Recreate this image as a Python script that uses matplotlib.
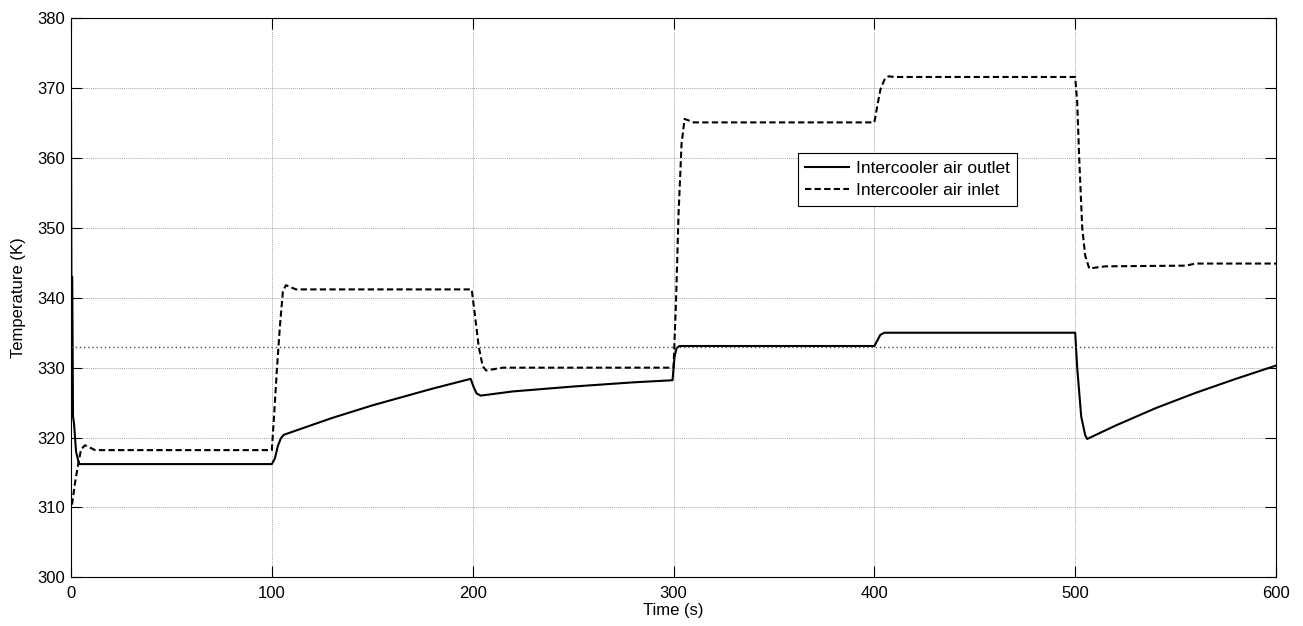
import numpy as np
import matplotlib
matplotlib.use("Agg")
import matplotlib.pyplot as plt

# ==============================
# DATA
# ==============================
# intercooler air outlet temperature (solid line)
t_outlet = [0, 0.2, 0.6, 1.0, 1.5, 2.5, 4, 100,
            101.5, 103, 104.5, 106, 110, 130, 150, 180, 199,
            200.5, 202, 204, 220, 250, 280, 299.5,
            300.5, 301.5, 303, 400,
            401.5, 403, 405, 500,
            501, 503, 505, 506, 520, 540, 560, 580, 600]
T_outlet = [368, 343, 343, 323, 322, 318, 316.2, 316.2,
            317.0, 318.8, 319.9, 320.4, 320.8, 322.8, 324.6, 327.0, 328.4,
            327.2, 326.3, 326.0, 326.6, 327.3, 327.9, 328.2,
            331.5, 332.8, 333.1, 333.1,
            333.9, 334.7, 335.0, 335.0,
            330.0, 323.0, 320.3, 319.8, 321.7, 324.2, 326.4, 328.4, 330.3]

# intercooler air inlet temperature (dashed line)
t_inlet = [0.5, 2, 3.5, 5, 7, 12, 100,
           101.3, 102.5, 104, 105.5, 107, 112, 199.5,
           201, 203, 205, 206.7, 215, 300,
           301.3, 302.5, 304, 305.5, 310, 400,
           401.5, 403, 405, 407, 410, 500,
           501, 502, 503.5, 505, 507, 515, 555, 560, 600]
T_inlet = [310.4, 313.5, 316.1, 318.3, 318.9, 318.2, 318.2,
           324.0, 329.7, 335.9, 340.9, 341.8, 341.2, 341.2,
           337.8, 333.0, 330.2, 329.6, 330.0, 330.0,
           340.0, 352.0, 362.0, 365.6, 365.1, 365.1,
           367.5, 369.8, 371.2, 371.7, 371.6, 371.6,
           368.0, 360.0, 350.0, 346.0, 344.2, 344.5, 344.6, 344.9, 344.9]

T_ref = 333.0          # dotted reference level

x_ticks = np.arange(0, 601, 100)
y_ticks = np.arange(300, 381, 10)

# ==============================
# PLOT
# ==============================
plt.rcParams["font.family"] = ["Liberation Sans", "DejaVu Sans"]
plt.rcParams["font.size"] = 12

fig = plt.figure(figsize=(13.03, 6.26), dpi=100)
ax = fig.add_axes([0.0545, 0.0778, 0.9248, 0.893])

ax.plot(t_outlet, T_outlet, color="k", lw=1.5, label="Intercooler air outlet")
ax.plot(t_inlet, T_inlet, color="k", lw=1.5, dashes=(3, 1.6),
        label="Intercooler air inlet")
ax.axhline(T_ref, color="0.3", lw=1.0, dashes=(1, 2))

ax.set_xlim(0, 600)
ax.set_ylim(300, 380)
ax.set_xticks(x_ticks)
ax.set_yticks(y_ticks)
ax.grid(True, color="0.65", lw=0.7, ls=(0, (1, 1)))
ax.tick_params(direction="in", length=8, width=0.8, top=True, right=True)
ax.tick_params(axis="x", pad=6)
ax.tick_params(axis="y", pad=4)
for s in ax.spines.values():
    s.set_linewidth(0.8)

ax.set_xlabel("Time (s)", labelpad=2)
ax.set_ylabel("Temperature (K)", labelpad=8)

leg = ax.legend(loc="upper left", bbox_to_anchor=(0.603, 0.759),
                borderaxespad=0, fancybox=False, edgecolor="k",
                framealpha=1, handlelength=2.5, handletextpad=0.4,
                borderpad=0.45, labelspacing=0.4, fontsize=12.5)
leg.get_frame().set_linewidth(0.8)

fig.savefig("out.png", dpi=100)
print("saved out.png")
